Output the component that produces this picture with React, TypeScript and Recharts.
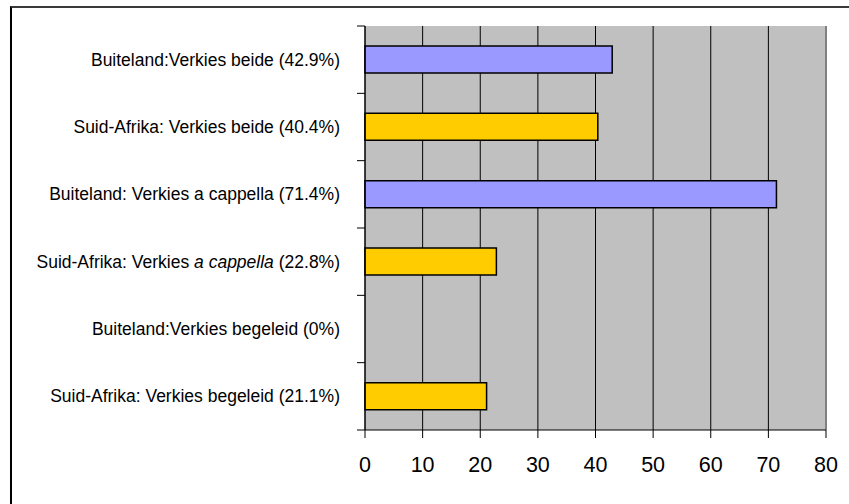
import React from 'react';
import { BarChart, Bar, XAxis, YAxis, CartesianGrid, Cell, ReferenceLine } from 'recharts';

const categories = [
  'Buiteland:Verkies beide (42.9%)',
  'Suid-Afrika: Verkies beide (40.4%)',
  'Buiteland: Verkies a cappella (71.4%)',
  'Suid-Afrika: Verkies a cappella (22.8%)',
  'Buiteland:Verkies begeleid (0%)',
  'Suid-Afrika: Verkies begeleid (21.1%)',
];
const italicParts = ['', '', '', 'a cappella', '', ''];
const values = [42.9, 40.4, 71.4, 22.8, 0, 21.1];
const groups = ['Buiteland', 'Suid-Afrika', 'Buiteland', 'Suid-Afrika', 'Buiteland', 'Suid-Afrika'];
const xTicks = [0, 10, 20, 30, 40, 50, 60, 70, 80];
const groupColors: Record<string, string> = { Buiteland: '#9999FF', 'Suid-Afrika': '#FFCC00' };

const data = categories.map((name, i) => ({ name, value: values[i], group: groups[i] }));

const CHART_W = 849;
const CHART_H = 504;
const MARGIN = { top: 26, right: 23, bottom: 0, left: 0 };
const Y_AXIS_W = 365;
const X_AXIS_H = 74;
const TICK_SIZE = 8;
const TICK_MARGIN = 17;
const BAND_HALF = (CHART_H - MARGIN.top - MARGIN.bottom - X_AXIS_H) / categories.length / 2;
const FONT = '"Liberation Sans", Arial, sans-serif';

const CategoryTick = (props: any) => {
  const { x, y, payload } = props;
  const label: string = payload.value;
  const idx = categories.indexOf(label);
  const it = italicParts[idx];
  let content: React.ReactNode = label;
  if (it && label.includes(it)) {
    const pos = label.indexOf(it);
    const a = label.slice(0, pos);
    const b = label.slice(pos + it.length);
    content = (
      <>
        <tspan>{a}</tspan>
        <tspan fontStyle="italic">{it}</tspan>
        <tspan>{b}</tspan>
      </>
    );
  }
  const axisX = x + TICK_SIZE + TICK_MARGIN;
  return (
    <g>
      <line x1={axisX - TICK_SIZE} x2={axisX} y1={y - BAND_HALF} y2={y - BAND_HALF} stroke="#000" strokeWidth={1} />
      {idx === categories.length - 1 && (
        <line x1={axisX - TICK_SIZE} x2={axisX} y1={y + BAND_HALF} y2={y + BAND_HALF} stroke="#000" strokeWidth={1} />
      )}
      <text x={x} y={y} dy="0.35em" textAnchor="end" fontSize={17.5} fill="#000" fontFamily={FONT} style={{ whiteSpace: 'pre' }}>
        {content}
      </text>
    </g>
  );
};

export default function App() {
  return (
    <div style={{ position: 'absolute', left: 0, top: 0, width: CHART_W, height: CHART_H, overflow: 'hidden', background: '#fff' }}>
      <div
        style={{
          position: 'absolute',
          left: 10,
          top: 6,
          width: 1000,
          height: 1000,
          borderLeft: '2px solid #000',
          borderTop: '2px solid #3a3a3a',
        }}
      />
      <div style={{ position: 'absolute', left: 0, top: 0 }}>
        <BarChart width={CHART_W} height={CHART_H} data={data} layout="vertical" margin={MARGIN} barSize={27}>
          <CartesianGrid horizontal={false} vertical={true} stroke="#000" strokeOpacity={1} fill="#C0C0C0" fillOpacity={1} />
          <XAxis
            type="number"
            domain={[0, 80]}
            ticks={xTicks}
            interval={0}
            height={X_AXIS_H}
            axisLine={{ stroke: '#000', strokeWidth: 1 }}
            tickLine={{ stroke: '#000', strokeWidth: 1 }}
            tickSize={TICK_SIZE}
            tickMargin={19}
            tick={{ fill: '#000', fontSize: 21.5, fontFamily: FONT }}
          />
          <YAxis
            type="category"
            dataKey="name"
            width={Y_AXIS_W}
            interval={0}
            axisLine={{ stroke: '#000', strokeWidth: 1 }}
            tickLine={false}
            tickSize={TICK_SIZE}
            tickMargin={TICK_MARGIN}
            tick={<CategoryTick />}
          />
          <ReferenceLine x={80} stroke="#808080" strokeWidth={2} />
          <Bar dataKey="value" stroke="#000" strokeWidth={1.5} isAnimationActive={false}>
            {data.map((d, i) => (
              <Cell key={i} fill={groupColors[d.group]} />
            ))}
          </Bar>
        </BarChart>
      </div>
    </div>
  );
}
